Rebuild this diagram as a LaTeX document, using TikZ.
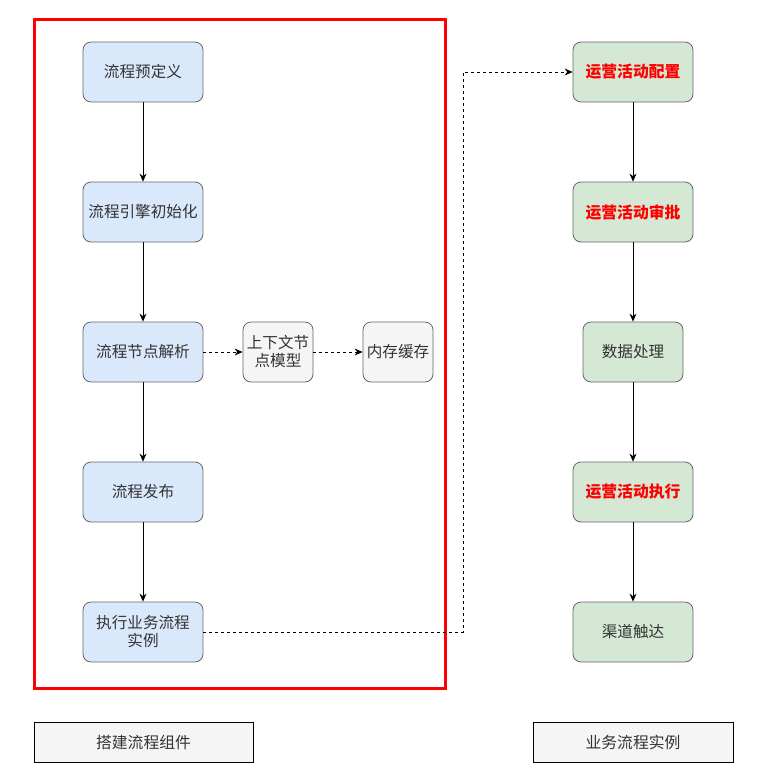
\documentclass[tikz,border=0pt]{standalone}
\usepackage{fontspec}
\setmainfont{Noto Sans CJK SC}
\usetikzlibrary{arrows.meta}
\definecolor{bluef}{HTML}{DAE8FC}
\definecolor{greenf}{HTML}{D5E8D4}
\definecolor{grayf}{HTML}{F5F5F5}
\definecolor{strk}{HTML}{666666}
\definecolor{txt}{HTML}{333333}
\tikzset{
  base/.style={draw=strk, rounded corners=8pt, minimum height=60pt, align=center, font=\fontsize{15.6}{18}\selectfont, text=txt, inner sep=1pt, line width=0.8pt},
  bluebox/.style={base, fill=bluef, minimum width=120pt, text width=112pt},
  greenbox/.style={base, fill=greenf, minimum width=120pt, text width=112pt},
  redtext/.style={text=red, font=\fontsize{15.8}{18}\selectfont\bfseries},
  graybox/.style={base, fill=grayf, minimum width=70pt, text width=68pt},
  labelbox/.style={draw=black, fill=grayf, minimum height=40pt, font=\fontsize{15.8}{18}\selectfont, text=txt, line width=0.8pt},
  arr/.style={-{Stealth[length=8pt,width=7pt]}, line width=0.8pt},
  darr/.style={arr, dashed, dash pattern=on 3pt off 3pt}
}
\begin{document}
\begin{tikzpicture}[x=1pt,y=-1pt]
\useasboundingbox (0,0) rectangle (770,780);
\draw[red, line width=3pt] (34,19.5) rectangle (445,688);

\node[bluebox] (b1) at (143,72) {流程预定义};
\node[bluebox] (b2) at (143,212) {流程引擎初始化};
\node[bluebox] (b3) at (143,352) {流程节点解析};
\node[bluebox] (b4) at (143,492) {流程发布};
\node[bluebox] (b5) at (143,632) {执行业务流程\\实例};

\node[graybox] (c1) at (278,352) {上下文节\\点模型};
\node[graybox] (c2) at (398,352) {内存缓存};

\node[greenbox, redtext] (g1) at (633,72) {运营活动配置};
\node[greenbox, redtext] (g2) at (633,212) {运营活动审批};
\node[greenbox, minimum width=100pt, text width=95pt] (g3) at (633,352) {数据处理};
\node[greenbox, redtext] (g4) at (633,492) {运营活动执行};
\node[greenbox] (g5) at (633,632) {渠道触达};

\node[labelbox, minimum width=219pt] (l1) at (143.5,742.5) {搭建流程组件};
\node[labelbox, minimum width=200pt] (l2) at (633,742.5) {业务流程实例};

\draw[arr] (b1) -- (b2);
\draw[arr] (b2) -- (b3);
\draw[arr] (b3) -- (b4);
\draw[arr] (b4) -- (b5);
\draw[darr] (b3) -- (c1);
\draw[darr] (c1) -- (c2);

\draw[arr] (g1) -- (g2);
\draw[arr] (g2) -- (g3);
\draw[arr] (g3) -- (g4);
\draw[arr] (g4) -- (g5);

\coordinate (k1) at (463,632);
\coordinate (k2) at (463,72);
\draw[darr] (b5.east) -- (k1) -- (k2) -- (g1.west);
\end{tikzpicture}
\end{document}
